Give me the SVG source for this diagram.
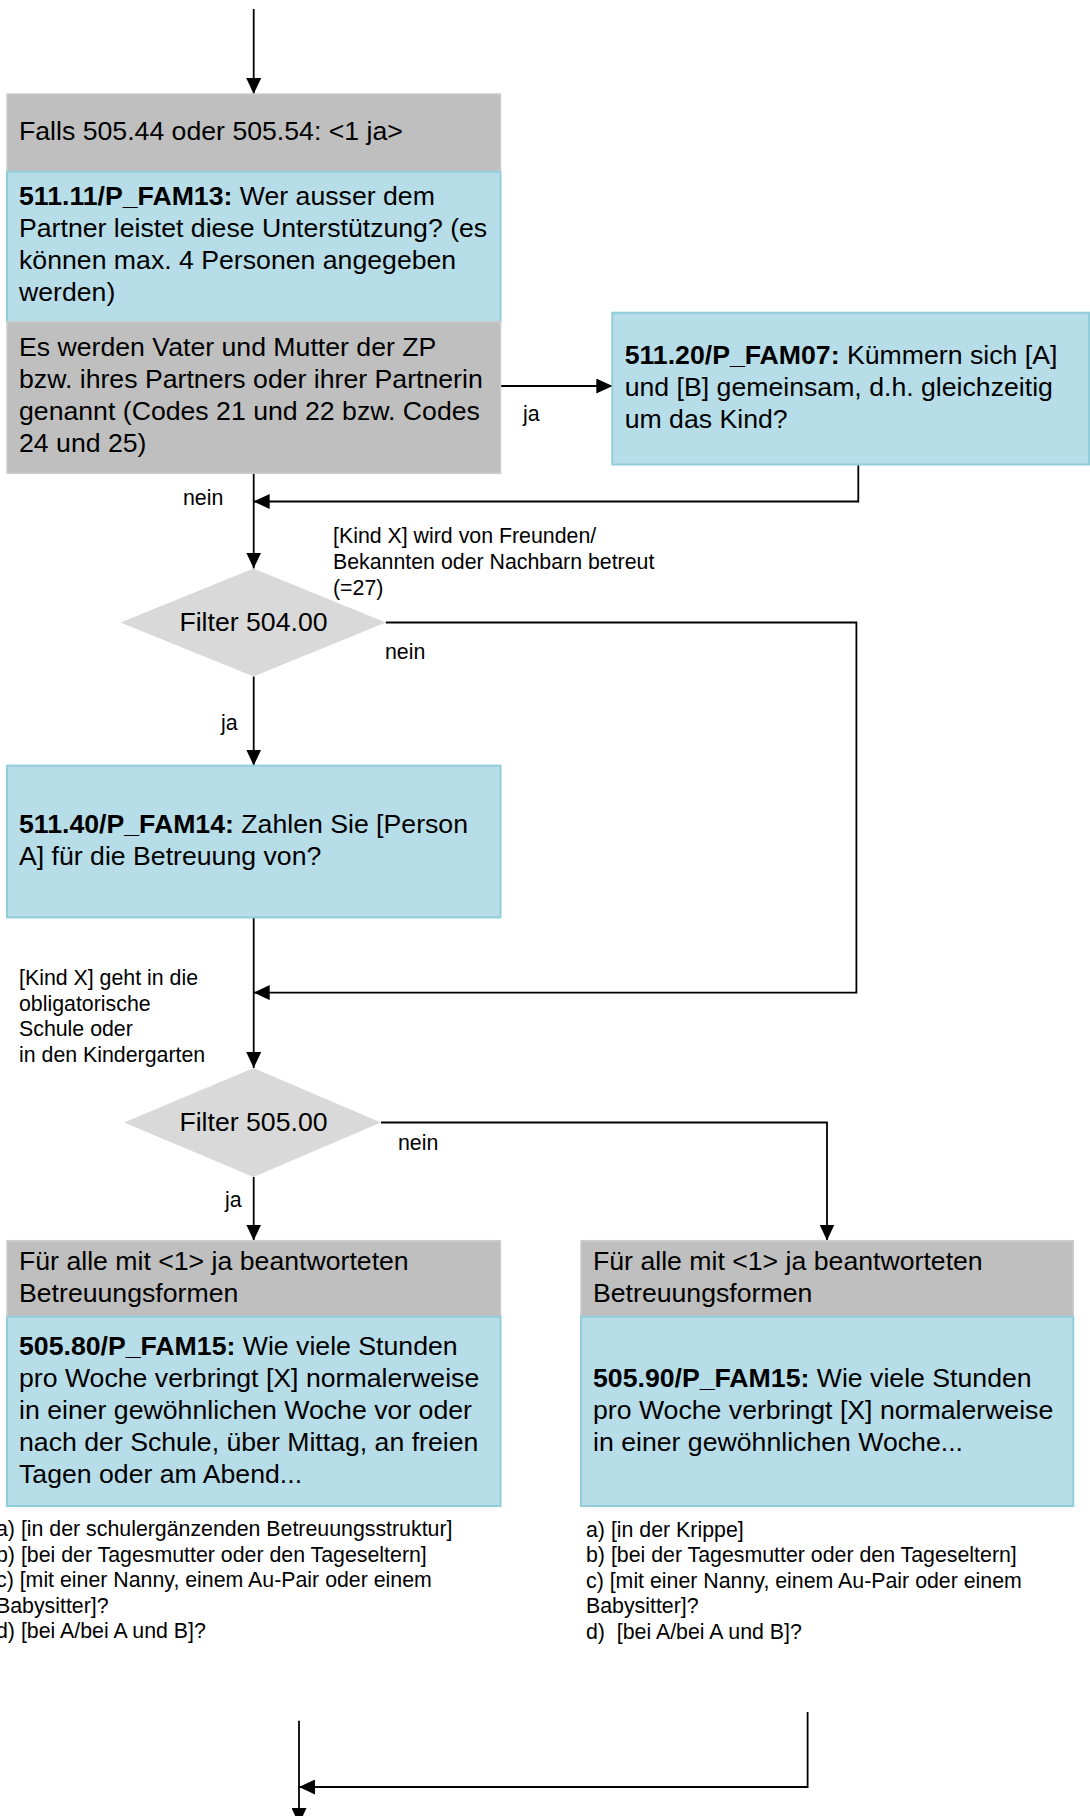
<svg xmlns="http://www.w3.org/2000/svg" width="1090" height="1816" viewBox="0 0 1090 1816">
<defs>
<style>
text{font-family:"Liberation Sans",Arial,sans-serif;fill:#000}
.t{font-size:26.67px}
.s{font-size:21.33px}
.b{font-weight:bold}
.gray{fill:#bfbfbf;stroke:#cdcdcd;stroke-width:1.5}
.blue{fill:#b7dde8;stroke:#92cddc;stroke-width:2}
.dia{fill:#d9d9d9}
.c{fill:none;stroke:#000;stroke-width:1.8}
</style>
<marker id="ah" viewBox="0 0 16 15" refX="16" refY="7.5" markerWidth="16" markerHeight="15" markerUnits="userSpaceOnUse" orient="auto">
<path d="M0,0 L16,7.5 L0,15 z" fill="#000"/>
</marker>
</defs>
<rect width="1090" height="1816" fill="#fff"/>

<g id="connectors">
<path class="c" d="M253.7,9 V94" marker-end="url(#ah)"/>
<path class="c" d="M500.5,386 H612.3" marker-end="url(#ah)"/>
<path class="c" d="M858.3,464.5 V501.5 H253.7" marker-end="url(#ah)"/>
<path class="c" d="M253.7,473.3 V568.5" marker-end="url(#ah)"/>
<path class="c" d="M385.8,622.5 H856.4 V992.6 H253.7" marker-end="url(#ah)"/>
<path class="c" d="M253.7,676.4 V765.6" marker-end="url(#ah)"/>
<path class="c" d="M253.7,917.4 V1068" marker-end="url(#ah)"/>
<path class="c" d="M253.7,1177 V1240.5" marker-end="url(#ah)"/>
<path class="c" d="M381,1122.5 H827 V1240.5" marker-end="url(#ah)"/>
<path class="c" d="M807.6,1712 V1787 H299" marker-end="url(#ah)"/>
<path class="c" d="M299,1720.7 V1824" marker-end="url(#ah)"/>
<text class="s" x="523" y="421">ja</text>
<text class="s" x="183" y="505">nein</text>
<text class="s" x="333" y="543">[Kind X] wird von Freunden/</text>
<text class="s" x="333" y="569">Bekannten oder Nachbarn betreut</text>
<text class="s" x="333" y="595">(=27)</text>
<text class="s" x="385" y="659">nein</text>
<text class="s" x="221" y="730">ja</text>
<text class="s" x="19" y="985">[Kind X] geht in die</text>
<text class="s" x="19" y="1010.5">obligatorische</text>
<text class="s" x="19" y="1036">Schule oder</text>
<text class="s" x="19" y="1061.5">in den Kindergarten</text>
<text class="s" x="398" y="1150">nein</text>
<text class="s" x="225" y="1207">ja</text>
</g>

<g id="n_falls">
<rect class="gray" x="7" y="94" width="493.5" height="77.7"/>
<text class="t" x="19" y="140">Falls 505.44 oder 505.54: &lt;1 ja&gt;</text>
</g>

<g id="n_511_11">
<rect class="blue" x="7" y="171.7" width="493.5" height="150"/>
<text class="t" x="19" y="205"><tspan class="b">511.11/P_FAM13:</tspan> Wer ausser dem</text>
<text class="t" x="19" y="237">Partner leistet diese Unterstützung? (es</text>
<text class="t" x="19" y="269">können max. 4 Personen angegeben</text>
<text class="t" x="19" y="301">werden)</text>
</g>

<g id="n_eltern">
<rect class="gray" x="7" y="321.7" width="493.5" height="151.6"/>
<text class="t" x="19" y="356">Es werden Vater und Mutter der ZP</text>
<text class="t" x="19" y="388">bzw. ihres Partners oder ihrer Partnerin</text>
<text class="t" x="19" y="420">genannt (Codes 21 und 22 bzw. Codes</text>
<text class="t" x="19" y="452">24 und 25)</text>
</g>

<g id="n_511_20">
<rect class="blue" x="612.3" y="312.7" width="476.7" height="151.8"/>
<text class="t" x="624.7" y="364"><tspan class="b">511.20/P_FAM07:</tspan> Kümmern sich [A]</text>
<text class="t" x="624.7" y="396">und [B] gemeinsam, d.h. gleichzeitig</text>
<text class="t" x="624.7" y="428">um das Kind?</text>
</g>

<g id="n_filter_504">
<polygon class="dia" points="120.5,622.5 253.5,568.5 385.8,622.5 253.5,676.4"/>
<text class="t" x="253.5" y="631" text-anchor="middle">Filter 504.00</text>
</g>

<g id="n_511_40">
<rect class="blue" x="7" y="765.6" width="493.5" height="151.8"/>
<text class="t" x="19" y="833"><tspan class="b">511.40/P_FAM14:</tspan> Zahlen Sie [Person</text>
<text class="t" x="19" y="865">A] für die Betreuung von?</text>
</g>

<g id="n_filter_505">
<polygon class="dia" points="124,1122.5 253.5,1068 381,1122.5 253.5,1177"/>
<text class="t" x="253.5" y="1131" text-anchor="middle">Filter 505.00</text>
</g>

<g id="n_505_80">
<rect class="gray" x="7" y="1240.7" width="493.5" height="76"/>
<text class="t" x="19" y="1270">Für alle mit &lt;1&gt; ja beantworteten</text>
<text class="t" x="19" y="1302">Betreuungsformen</text>
<rect class="blue" x="7" y="1316.7" width="493.5" height="189.3"/>
<text class="t" x="19" y="1355"><tspan class="b">505.80/P_FAM15:</tspan> Wie viele Stunden</text>
<text class="t" x="19" y="1387">pro Woche verbringt [X] normalerweise</text>
<text class="t" x="19" y="1419">in einer gewöhnlichen Woche vor oder</text>
<text class="t" x="19" y="1451">nach der Schule, über Mittag, an freien</text>
<text class="t" x="19" y="1483">Tagen oder am Abend...</text>
<text class="s" x="-4" y="1536">a) [in der schulergänzenden Betreuungsstruktur]</text>
<text class="s" x="-4" y="1561.5">b) [bei der Tagesmutter oder den Tageseltern]</text>
<text class="s" x="-4" y="1587">c) [mit einer Nanny, einem Au-Pair oder einem</text>
<text class="s" x="-4" y="1612.5">Babysitter]?</text>
<text class="s" x="-4" y="1638">d) [bei A/bei A und B]?</text>
</g>

<g id="n_505_90">
<rect class="gray" x="581" y="1240.7" width="492.3" height="76"/>
<text class="t" x="593" y="1270">Für alle mit &lt;1&gt; ja beantworteten</text>
<text class="t" x="593" y="1302">Betreuungsformen</text>
<rect class="blue" x="581" y="1316.7" width="492.3" height="189.3"/>
<text class="t" x="593" y="1387"><tspan class="b">505.90/P_FAM15:</tspan> Wie viele Stunden</text>
<text class="t" x="593" y="1419">pro Woche verbringt [X] normalerweise</text>
<text class="t" x="593" y="1451">in einer gewöhnlichen Woche...</text>
<text class="s" x="586" y="1536.5">a) [in der Krippe]</text>
<text class="s" x="586" y="1562">b) [bei der Tagesmutter oder den Tageseltern]</text>
<text class="s" x="586" y="1587.5">c) [mit einer Nanny, einem Au-Pair oder einem</text>
<text class="s" x="586" y="1613">Babysitter]?</text>
<text class="s" x="586" y="1638.5">d)&#160; [bei A/bei A und B]?</text>
</g>
</svg>
